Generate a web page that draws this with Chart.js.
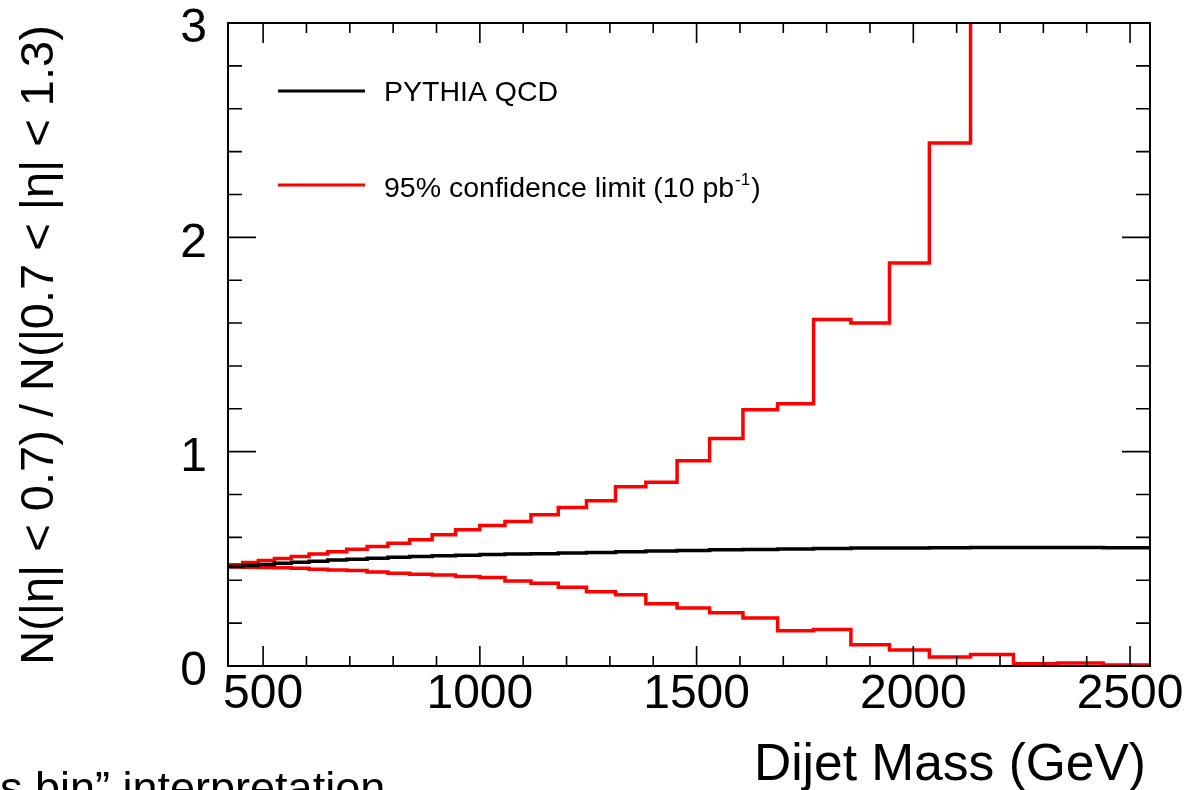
<!DOCTYPE html>
<html>
<head>
<meta charset="utf-8">
<script src="https://cdn.jsdelivr.net/npm/chart.js@4/dist/chart.umd.min.js"></script>
<style>
    html, body { margin: 0; padding: 0; background: #fff; }
    #wrap { width: 1189px; height: 790px; position: relative; }
</style>
</head>
<body>
<div id="wrap"><canvas id="ratio-chart"></canvas></div>
<script>
// dijet mass bin edges (GeV)
const binEdges = [419, 453, 489, 526, 565, 606, 649, 693, 740, 788, 838, 890, 944, 1000, 1058,
    1118, 1181, 1246, 1313, 1383, 1455, 1530, 1607, 1687, 1770, 1856, 1945, 2037, 2132, 2231,
    2332, 2438, 2546];

// PYTHIA QCD ratio per bin
const qcdRatio = [0.464, 0.469, 0.474, 0.479, 0.484, 0.489, 0.494, 0.498, 0.503, 0.507, 0.511,
    0.514, 0.517, 0.520, 0.522, 0.524, 0.527, 0.530, 0.533, 0.536, 0.539, 0.542, 0.544, 0.546,
    0.548, 0.550, 0.551, 0.552, 0.553, 0.553, 0.553, 0.552];

// 95% CL band, upper and lower edge per bin (last bins go off the top)
const limitUpper = [0.472, 0.483, 0.492, 0.501, 0.511, 0.522, 0.533, 0.545, 0.558, 0.573, 0.589,
    0.612, 0.636, 0.656, 0.674, 0.706, 0.740, 0.771, 0.836, 0.857, 0.958, 1.061, 1.196, 1.223,
    1.617, 1.600, 1.880, 2.440, 3.400, 4.200, 5.000, 6.000];
const limitLower = [0.462, 0.461, 0.460, 0.458, 0.456, 0.451, 0.448, 0.445, 0.438, 0.433, 0.428,
    0.425, 0.417, 0.413, 0.397, 0.386, 0.368, 0.346, 0.332, 0.290, 0.271, 0.249, 0.224, 0.164,
    0.170, 0.099, 0.075, 0.042, 0.054, 0.011, 0.014, 0.005];

const xMajorTicks = [500, 1000, 1500, 2000, 2500];
const yMajorTicks = [0, 1, 2, 3];

const FONT = '"Liberation Sans", Arial, Helvetica, sans-serif';

// histogram -> step points (left edge of each bin + closing right edge)
function toSteps(values) {
    const pts = values.map((v, i) => ({ x: binEdges[i], y: v }));
    pts.push({ x: binEdges[binEdges.length - 1], y: values[values.length - 1] });
    return pts;
}

// ROOT-style frame with inward ticks on all four sides
const frameTicks = {
    id: 'frameTicks',
    afterDatasetsDraw(chart) {
        const { ctx, chartArea: a, scales: { x, y } } = chart;
        ctx.save();
        ctx.strokeStyle = '#000';
        ctx.lineWidth = 2;
        ctx.strokeRect(a.left, a.top, a.right - a.left, a.bottom - a.top);
        ctx.lineWidth = 1.6;
        ctx.beginPath();
        for (let v = 500; v <= 2500; v += 100) {
            const px = x.getPixelForValue(v);
            const len = xMajorTicks.includes(v) ? 20 : 10;
            ctx.moveTo(px, a.bottom); ctx.lineTo(px, a.bottom - len);
            ctx.moveTo(px, a.top); ctx.lineTo(px, a.top + len);
        }
        for (let k = 0; k <= 15; k++) {
            const v = k * 0.2;
            const py = y.getPixelForValue(v);
            const len = k % 5 === 0 ? 28 : 14;
            ctx.moveTo(a.left, py); ctx.lineTo(a.left + len, py);
            ctx.moveTo(a.right, py); ctx.lineTo(a.right - len, py);
        }
        ctx.stroke();
        ctx.restore();
    },
    afterDraw(chart) {
        const { ctx } = chart;
        ctx.save();
        ctx.fillStyle = '#000';

        // legend
        ctx.lineWidth = 3;
        ctx.strokeStyle = '#000';
        ctx.beginPath(); ctx.moveTo(278, 91); ctx.lineTo(365, 91); ctx.stroke();
        ctx.strokeStyle = '#ff0000';
        ctx.beginPath(); ctx.moveTo(278, 185); ctx.lineTo(365, 185); ctx.stroke();
        ctx.font = '28.5px ' + FONT;
        ctx.textBaseline = 'alphabetic';
        ctx.fillText('PYTHIA QCD', 384, 101);
        const main = '95% confidence limit (10 pb';
        ctx.fillText(main, 384, 197);
        let w = ctx.measureText(main).width;
        ctx.font = '17px ' + FONT;
        ctx.fillText('-1', 384 + w + 1, 185);
        const w2 = ctx.measureText('-1').width;
        ctx.font = '28.5px ' + FONT;
        ctx.fillText(')', 384 + w + w2 + 2, 197);

        // axis titles
        ctx.font = '51.5px ' + FONT;
        ctx.textAlign = 'right';
        ctx.fillText('Dijet Mass (GeV)', 1146, 780);

        ctx.save();
        ctx.translate(53, 345);
        ctx.rotate(-Math.PI / 2);
        ctx.textAlign = 'center';
        ctx.font = '47px ' + FONT;
        ctx.fillText('N(|\u03b7| < 0.7) / N(|0.7 < |\u03b7| < 1.3)', 0, 0);
        ctx.restore();

        // cut-off slide text at the bottom
        ctx.textAlign = 'left';
        ctx.font = '45px ' + FONT;
        ctx.fillText('s bin\u201d interpretation', 0, 803);
        ctx.restore();
    }
};

const stepLine = color => ({
    borderColor: color,
    borderWidth: 3.5,
    stepped: true,
    pointRadius: 0,
    fill: false
});

new Chart(document.getElementById('ratio-chart'), {
    type: 'line',
    data: {
        datasets: [
            { label: 'PYTHIA QCD', data: toSteps(qcdRatio), ...stepLine('#000') },
            { label: '95% confidence limit (10 pb-1)', data: toSteps(limitUpper), ...stepLine('#ff0000') },
            { label: '95% lower', data: toSteps(limitLower), ...stepLine('#ff0000') }
        ]
    },
    options: {
        responsive: true,
        maintainAspectRatio: false,
        animation: false,
        layout: { padding: { top: 23, right: 39, left: 0, bottom: 0 } },
        plugins: {
            legend: { display: false },
            tooltip: { enabled: false }
        },
        scales: {
            x: {
                type: 'linear',
                min: binEdges[0],
                max: binEdges[binEdges.length - 1],
                border: { display: false },
                grid: { display: false, drawTicks: false },
                afterBuildTicks: scale => { scale.ticks = xMajorTicks.map(v => ({ value: v })); },
                afterFit: scale => {
                    scale.height = 124;
                    scale.paddingLeft = 0;
                    scale.paddingRight = 0;
                },
                ticks: {
                    color: '#000',
                    autoSkip: false,
                    maxRotation: 0,
                    padding: 5,
                    callback: v => String(v),
                    font: { family: FONT, size: 48, lineHeight: 1 }
                }
            },
            y: {
                min: 0,
                max: 3,
                border: { display: false },
                grid: { display: false, drawTicks: false },
                afterBuildTicks: scale => { scale.ticks = yMajorTicks.map(v => ({ value: v })); },
                afterFit: scale => {
                    scale.width = 228;
                    scale.paddingTop = 0;
                    scale.paddingBottom = 0;
                },
                ticks: {
                    color: '#000',
                    padding: 21,
                    labelOffset: 6,
                    callback: v => String(v),
                    font: { family: FONT, size: 48, lineHeight: 1 }
                }
            }
        }
    },
    plugins: [frameTicks]
});
</script>
</body>
</html>
